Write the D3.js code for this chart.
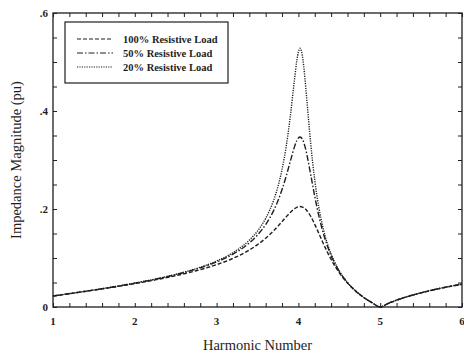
<!DOCTYPE html>
<html>
<head>
<meta charset="utf-8">
<script src="https://cdn.jsdelivr.net/npm/d3@7.9.0/dist/d3.min.js"></script>
<style>
  body { margin: 0; background: #fff; }
  svg { display: block; }
  text { font-family: "Liberation Serif", "DejaVu Serif", serif; fill: #1e1e1e; }
</style>
</head>
<body>
<svg id="chart" width="464" height="353"></svg>
<script>
// harmonic order (x) and impedance magnitude in pu (y)
const harmonic = [1.0, 1.25, 1.5, 1.75, 2.0, 2.25, 2.5, 2.75, 3.0, 3.1, 3.2, 3.3, 3.4, 3.5, 3.6, 3.65, 3.7, 3.75, 3.8, 3.85, 3.9, 3.95, 3.98, 4.0, 4.02, 4.05, 4.08, 4.1, 4.15, 4.2, 4.25, 4.3, 4.35, 4.4, 4.5, 4.6, 4.7, 4.8, 4.9, 5.0, 5.1, 5.2, 5.4, 5.6, 5.8, 6.0];
const load100 = [0.0224, 0.0283, 0.0344, 0.0408, 0.0477, 0.0553, 0.0639, 0.0739, 0.0864, 0.0924, 0.0992, 0.1071, 0.1163, 0.1272, 0.1403, 0.1479, 0.1561, 0.1650, 0.1743, 0.1839, 0.1929, 0.2004, 0.2034, 0.2046, 0.2050, 0.2040, 0.2008, 0.1975, 0.1852, 0.1687, 0.1501, 0.1312, 0.1134, 0.0971, 0.0699, 0.0488, 0.0324, 0.0193, 0.0088, 0.0, 0.0074, 0.0139, 0.0245, 0.0329, 0.0400, 0.0461];
const load50 = [0.0225, 0.0284, 0.0347, 0.0414, 0.0486, 0.0567, 0.0660, 0.0773, 0.0919, 0.0992, 0.1078, 0.1181, 0.1308, 0.1469, 0.1683, 0.1818, 0.1978, 0.2169, 0.2397, 0.2665, 0.2966, 0.3258, 0.3393, 0.3450, 0.3470, 0.3421, 0.3277, 0.3138, 0.2706, 0.2256, 0.1860, 0.1532, 0.1267, 0.1051, 0.0727, 0.0497, 0.0327, 0.0194, 0.0088, 0.0, 0.0074, 0.0139, 0.0245, 0.0331, 0.0405, 0.0469];
const load20 = [0.0225, 0.0285, 0.0348, 0.0415, 0.0489, 0.0571, 0.0667, 0.0784, 0.0938, 0.1016, 0.1109, 0.1222, 0.1364, 0.1550, 0.1809, 0.1979, 0.2190, 0.2459, 0.2807, 0.3269, 0.3877, 0.4611, 0.5020, 0.5208, 0.5280, 0.5112, 0.4666, 0.4288, 0.3344, 0.2588, 0.2033, 0.1625, 0.1318, 0.1080, 0.0736, 0.0500, 0.0327, 0.0194, 0.0088, 0.0, 0.0074, 0.0139, 0.0245, 0.0332, 0.0406, 0.0471];

const seriesNames = ['100% Resistive Load', '50% Resistive Load', '20% Resistive Load'];
const xTicks = [1, 2, 3, 4, 5, 6];
const yTicks = [0, 0.2, 0.4, 0.6];
const yTickText = ['0', '.2', '.4', '.6'];

const W = 464, H = 353;
const margin = { top: 13, right: 2, bottom: 46, left: 53 };
const ink = '#1e1e1e';

const svg = d3.select('#chart');
const x = d3.scaleLinear().domain([1, 6]).range([margin.left, W - margin.right]);
const y = d3.scaleLinear().domain([0, 0.6]).range([H - margin.bottom, margin.top]);

// frame
svg.append('rect')
  .attr('x', x(1)).attr('y', y(0.6))
  .attr('width', x(6) - x(1)).attr('height', y(0) - y(0.6))
  .attr('fill', 'none').attr('stroke', ink).attr('stroke-width', 1.3);

// inward ticks on all four sides
const minorX = d3.range(1, 6.001, 0.2);
const minorY = d3.range(0, 0.6001, 0.05);
const tickLen = 4;
function tickAxis(axis, g) {
  g.call(axis);
  g.select('.domain').remove();
  g.selectAll('.tick line').attr('stroke', ink).attr('stroke-width', 1);
}
tickAxis(d3.axisBottom(x).tickValues(minorX).tickSize(-tickLen).tickFormat(''),
  svg.append('g').attr('transform', `translate(0,${y(0)})`));
tickAxis(d3.axisTop(x).tickValues(minorX).tickSize(-tickLen).tickFormat(''),
  svg.append('g').attr('transform', `translate(0,${y(0.6)})`));
tickAxis(d3.axisLeft(y).tickValues(minorY).tickSize(-tickLen).tickFormat(''),
  svg.append('g').attr('transform', `translate(${x(1)},0)`));
tickAxis(d3.axisRight(y).tickValues(minorY).tickSize(-tickLen).tickFormat(''),
  svg.append('g').attr('transform', `translate(${x(6)},0)`));

// tick labels
svg.append('g').selectAll('text').data(xTicks).join('text')
  .attr('x', d => x(d)).attr('y', y(0) + 18)
  .attr('text-anchor', 'middle')
  .attr('font-size', 11).attr('font-weight', 'bold')
  .text(d => d);
svg.append('g').selectAll('text').data(yTicks).join('text')
  .attr('x', x(1) - 5).attr('y', d => y(d) + 4)
  .attr('text-anchor', 'end')
  .attr('font-size', 11).attr('font-weight', 'bold')
  .text((d, i) => yTickText[i]);

// axis titles
svg.append('text')
  .attr('x', (x(1) + x(6)) / 2).attr('y', 350)
  .attr('text-anchor', 'middle').attr('font-size', 14.5)
  .text('Harmonic Number');
svg.append('text')
  .attr('transform', `translate(21,${(y(0) + y(0.6)) / 2}) rotate(-90)`)
  .attr('text-anchor', 'middle').attr('font-size', 14.5)
  .text('Impedance Magnitude (pu)');

// curves
const dashes = ['4,2', '6,2,1.5,2', '1.2,1.2'];
const allSeries = [load100, load50, load20];
const line = d3.line()
  .x((d, i) => x(harmonic[i]))
  .y(d => y(d))
  .curve(d3.curveMonotoneX);
allSeries.forEach((vals, idx) => {
  svg.append('path')
    .attr('d', line(vals))
    .attr('fill', 'none')
    .attr('stroke', ink)
    .attr('stroke-width', 1.4)
    .attr('stroke-dasharray', dashes[idx]);
});

// legend
const legend = svg.append('g');
legend.append('rect')
  .attr('x', 65).attr('y', 22).attr('width', 163).attr('height', 61)
  .attr('fill', '#fff').attr('stroke', ink).attr('stroke-width', 1.2);
seriesNames.forEach((name, idx) => {
  const ly = 39 + idx * 14;
  legend.append('line')
    .attr('x1', 77).attr('x2', 113).attr('y1', ly).attr('y2', ly)
    .attr('stroke', ink).attr('stroke-width', 1.2)
    .attr('stroke-dasharray', dashes[idx]);
  legend.append('text')
    .attr('x', 123).attr('y', ly + 3.5)
    .attr('font-size', 10.5).attr('font-weight', 'bold')
    .text(name);
});
</script>
</body>
</html>
